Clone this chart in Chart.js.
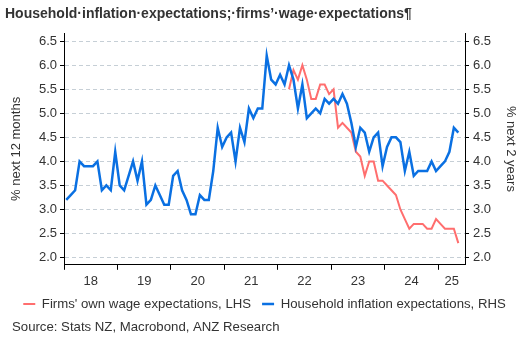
<!DOCTYPE html>
<html>
<head>
<meta charset="utf-8">
<script src="https://cdn.jsdelivr.net/npm/chart.js@4.4.1/dist/chart.umd.min.js"></script>
<style>
    body { margin: 0; background: #fff; }
    #wrap { width: 524px; height: 340px; }
</style>
</head>
<body>
<div id="wrap"><canvas id="expChart" width="524" height="340"></canvas></div>
<script>
// monthly readings, first value is Jan 2018
const startYear = 2018;
const household = [
    3.2, 3.3, 3.4, 4.0, 3.9, 3.9, 3.9, 4.0, 3.4, 3.5, 3.4, 4.2,
    3.5, 3.4, 3.7, 4.0, 3.6, 4.0, 3.1, 3.2, 3.5, 3.3, 3.1, 3.1,
    3.7, 3.8, 3.4, 3.2, 2.9, 2.9, 3.3, 3.2, 3.2, 3.8, 4.7, 4.3,
    4.5, 4.6, 4.0, 4.7, 4.4, 5.1, 4.9, 5.1, 5.1, 6.2, 5.7, 5.6,
    5.8, 5.6, 6.0, 5.7, 5.1, 5.6, 4.9, 5.0, 5.1, 5.0, 5.3, 5.2,
    5.3, 5.2, 5.4, 5.2, 4.8, 4.3, 4.7, 4.6, 4.2, 4.5, 4.6, 3.9,
    4.3, 4.5, 4.5, 4.4, 3.8, 4.2, 3.7, 3.8, 3.8, 3.8, 4.0, 3.8,
    3.9, 4.0, 4.2, 4.7, 4.6
];
// firms' series starts in month 50 (Mar 2022)
const wageStart = 50;
const wages = [
    5.5, 5.9, 5.7, 6.0, 5.7, 5.3, 5.3, 5.6, 5.6, 5.4,
    5.5, 4.7, 4.8, 4.7, 4.6, 4.2, 4.1, 3.7, 4.0, 4.0,
    3.6, 3.6, 3.5, 3.4, 3.3, 3.0, 2.8, 2.6, 2.7, 2.7,
    2.7, 2.6, 2.6, 2.8, 2.7, 2.6, 2.6, 2.6, 2.3
];
const yearTicks = [2018, 2019, 2020, 2021, 2022, 2023, 2024, 2025];
const yearLabelPos = [2018.5, 2019.5, 2020.5, 2021.5, 2022.5, 2023.5, 2024.5, 2025.25];
const yearLabels = ['18', '19', '20', '21', '22', '23', '24', '25'];
const valueTicks = [2.0, 2.5, 3.0, 3.5, 4.0, 4.5, 5.0, 5.5, 6.0, 6.5];

const titleText = 'Household\u00b7inflation\u00b7expectations;\u00b7firms\u2019\u00b7wage\u00b7expectations\u00b6';
const sourceText = 'Source: Stats NZ, Macrobond, ANZ Research';

const fontFamily = 'Arial, "Liberation Sans", sans-serif';
const textColor = '#333333';
const redLine = '#ff6e6e';
const blueLine = '#0a70e2';
const gridColor = '#c6cfd6';

function monthPos(i) {
    return startYear + (i + 0.5) / 12;
}

const householdPoints = household.map((v, i) => ({ x: monthPos(i), y: v }));
const wagePoints = wages.map((v, i) => ({ x: monthPos(wageStart + i), y: v }));

Chart.defaults.font.family = fontFamily;
Chart.defaults.font.size = 13;
Chart.defaults.color = textColor;

// source line under the legend
const sourceNote = {
    id: 'sourceNote',
    afterDraw(chart) {
        const c = chart.ctx;
        c.save();
        c.font = '13.2px ' + fontFamily;
        c.fillStyle = textColor;
        c.textBaseline = 'middle';
        c.textAlign = 'left';
        c.fillText(sourceText, 12, 327);
        c.restore();
    }
};

const ctx = document.getElementById('expChart').getContext('2d');
const expChart = new Chart(ctx, {
    type: 'line',
    data: {
        datasets: [{
            label: "Firms' own wage expectations, LHS",
            data: wagePoints,
            borderColor: redLine,
            backgroundColor: redLine,
            borderWidth: 2,
            pointRadius: 0,
            yAxisID: 'y',
            order: 1
        }, {
            label: 'Household inflation expectations, RHS',
            data: householdPoints,
            borderColor: blueLine,
            backgroundColor: blueLine,
            borderWidth: 2.5,
            pointRadius: 0,
            yAxisID: 'y2',
            order: 0
        }]
    },
    options: {
        responsive: false,
        animation: false,
        devicePixelRatio: 1,
        layout: { padding: { left: 5, right: 0, top: 0, bottom: 19.5 } },
        plugins: {
            title: {
                display: true,
                text: titleText,
                align: 'start',
                color: textColor,
                font: { size: 14, weight: 'bold' },
                padding: { top: 5.5, bottom: 10.7 }
            },
            legend: {
                position: 'bottom',
                labels: {
                    usePointStyle: true,
                    pointStyle: 'line',
                    pointStyleWidth: 12,
                    boxHeight: 13,
                    padding: 11,
                    color: textColor,
                    font: { size: 13.2 },
                    sort: (a, b) => a.datasetIndex - b.datasetIndex
                }
            },
            tooltip: { enabled: false }
        },
        scales: {
            x: {
                type: 'linear',
                position: 'bottom',
                min: 2018,
                max: 2025.5,
                afterBuildTicks: s => { s.ticks = yearTicks.map(v => ({ value: v })); },
                afterFit: s => { s.height = 5; },
                grid: { drawOnChartArea: false, tickLength: 5, tickColor: '#000', color: '#000' },
                border: { color: '#000', width: 1 },
                ticks: { display: false }
            },
            xLabels: {
                type: 'linear',
                position: 'bottom',
                min: 2018,
                max: 2025.5,
                afterBuildTicks: s => { s.ticks = yearLabelPos.map(v => ({ value: v })); },
                afterFit: s => { s.height = 16.5; },
                grid: { display: false, drawTicks: false },
                border: { display: false },
                ticks: {
                    autoSkip: false,
                    maxRotation: 0,
                    padding: 4,
                    color: textColor,
                    callback: (v, i) => yearLabels[i]
                }
            },
            y: {
                position: 'left',
                min: 1.85,
                max: 6.67,
                afterBuildTicks: s => { s.ticks = valueTicks.map(v => ({ value: v })); },
                afterFit: s => { s.width = 59; },
                grid: { color: gridColor, tickColor: '#000', tickLength: 4 },
                border: { color: '#000', width: 1, dash: [4, 3] },
                ticks: { padding: 3, color: textColor, callback: v => v.toFixed(1) },
                title: { display: true, text: '% next 12 months', color: textColor, padding: { top: 4 } }
            },
            y2: {
                position: 'right',
                min: 1.85,
                max: 6.67,
                afterBuildTicks: s => { s.ticks = valueTicks.map(v => ({ value: v })); },
                afterFit: s => { s.width = 59; },
                grid: { drawOnChartArea: false, tickColor: '#000', tickLength: 4 },
                border: { color: '#000', width: 1 },
                ticks: { padding: 4, color: textColor, callback: v => v.toFixed(1) },
                title: { display: true, text: '% next 2 years', color: textColor, padding: { top: 6 } }
            }
        }
    },
    plugins: [sourceNote]
});
</script>
</body>
</html>
